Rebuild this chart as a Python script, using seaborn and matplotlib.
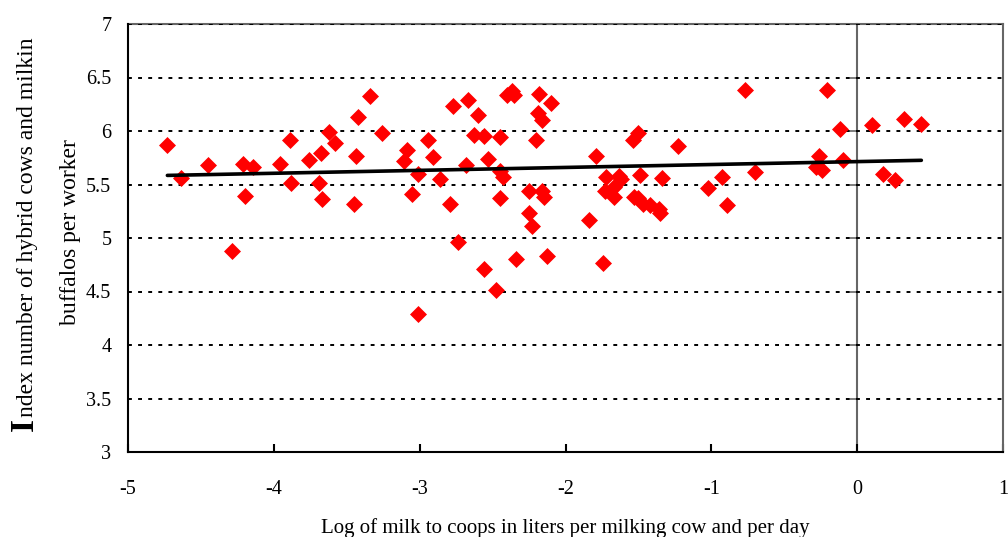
import matplotlib
matplotlib.use("Agg")
import matplotlib.pyplot as plt
import seaborn as sns
import pandas as pd
import numpy as np

# ---- data ----
log_milk = [-4.73, -4.64, -4.45, -4.29, -4.21, -4.20, -4.14, -3.96, -3.89, -3.88,
            -3.76, -3.68, -3.69, -3.67, -3.62, -3.58, -3.44, -3.45, -3.42, -3.34,
            -3.26, -3.11, -3.09, -3.05, -3.01, -3.01,
            -2.94, -2.91, -2.86, -2.79, -2.77, -2.74, -2.68, -2.67, -2.63, -2.60,
            -2.56, -2.56, -2.53, -2.48, -2.45, -2.45, -2.45, -2.43, -2.40, -2.37,
            -2.35, -2.34, -2.25, -2.25, -2.23, -2.20, -2.19, -2.18, -2.16, -2.16,
            -2.15, -2.13, -2.10, -1.84, -1.79, -1.74, -1.72, -1.73, -1.67, -1.67,
            -1.63, -1.62, -1.54, -1.50, -1.53, -1.49, -1.50, -1.47, -1.42, -1.36,
            -1.35, -1.34, -1.23,
            -0.77, -0.21, -0.12, 0.10, 0.32, 0.44, -1.02, -0.93, -0.89, -0.70,
            -0.26, -0.28, -0.24, -0.10, 0.18, 0.26]
index_cows = [5.87, 5.56, 5.68, 4.88, 5.69, 5.39, 5.66, 5.69, 5.92, 5.51,
              5.73, 5.79, 5.51, 5.36, 5.99, 5.89, 5.77, 5.32, 6.13, 6.33,
              5.98, 5.72, 5.82, 5.41, 5.60, 4.29,
              5.92, 5.76, 5.55, 5.32, 6.23, 4.96, 5.68, 6.29, 5.96, 6.15,
              5.95, 4.71, 5.74, 4.51, 5.94, 5.37, 5.63, 5.57, 6.34, 6.37,
              6.34, 4.80, 5.23, 5.44, 5.11, 5.92, 6.17, 6.35, 6.10, 5.44,
              5.38, 4.83, 6.26, 5.17, 5.77, 4.77, 5.57, 5.44, 5.48, 5.38,
              5.58, 5.55, 5.92, 5.98, 5.38, 5.59, 5.37, 5.32, 5.31, 5.27,
              5.23, 5.56, 5.86,
              6.38, 6.38, 6.02, 6.06, 6.11, 6.07, 5.47, 5.57, 5.31, 5.62,
              5.77, 5.66, 5.64, 5.73, 5.60, 5.54]
trend_x = [-4.73, 0.44]
trend_y = [5.585, 5.726]

x_ticks = [-5, -4, -3, -2, -1, 0, 1]
y_ticks = [3, 3.5, 4, 4.5, 5, 5.5, 6, 6.5, 7]
x_tick_labels = ["-5", "-4", "-3", "-2", "-1", "0", "1"]
y_tick_labels = ["3", "3.5", "4", "4.5", "5", "5.5", "6", "6.5", "7"]

x_title = "Log of milk to coops in liters per milking cow and per day"
y_title_first = "I"
y_title_line1 = "ndex number of hybrid cows and milkin"
y_title_line2 = "buffalos per worker"

# ---- styling ----
sns.set_theme(style="white")
plt.rcParams["font.family"] = ["Liberation Serif", "DejaVu Serif"]

fig = plt.figure(figsize=(10.08, 5.37), dpi=100)
ax = fig.add_axes([128 / 1008, 1 - 452 / 537, (1003 - 128) / 1008, (452 - 24) / 537])

df = pd.DataFrame({"x": log_milk, "y": index_cows})
sns.scatterplot(data=df, x="x", y="y", ax=ax, marker="D", color="#ff0000",
                s=75, linewidth=0, zorder=4)
tr = pd.DataFrame({"x": trend_x, "y": trend_y})
sns.lineplot(data=tr, x="x", y="y", ax=ax, color="black", linewidth=2.6, zorder=5)

ax.set_xlim(x_ticks[0], x_ticks[-1])
ax.set_ylim(y_ticks[0], y_ticks[-1])
ax.set_xticks(x_ticks)
ax.set_xticklabels(x_tick_labels)
ax.set_yticks(y_ticks)
ax.set_yticklabels(y_tick_labels)

ax.yaxis.grid(True, color="black", linestyle=(0, (2, 3.2)), linewidth=1.4)
ax.xaxis.grid(False)
ax.set_axisbelow(True)

for side in ["left", "bottom"]:
    ax.spines[side].set_color("black")
    ax.spines[side].set_linewidth(1.5)
for side in ["top", "right"]:
    ax.spines[side].set_color("#666666")
    ax.spines[side].set_linewidth(1.5)
ax.spines["top"].set_zorder(0.5)

ax.tick_params(axis="x", direction="in", length=6, width=1.5, color="black",
               pad=20, labelsize=14.5, labelcolor="black", bottom=True)
ax.tick_params(axis="y", length=0, pad=12, labelsize=14.5, labelcolor="black")

# y axis crossing at x = 0 (Excel style)
xmin, xmax = ax.get_xlim()
loc0 = (0 - xmin) / (xmax - xmin)
sec = ax.secondary_yaxis(loc0)
sec.set_alignment("left")
sec.spines["left"].set_color("#666666")
sec.spines["left"].set_linewidth(1.5)
sec.set_yticks(y_ticks)
sec.tick_params(axis="y", direction="out", length=5, width=1.2, color="#666666",
                labelleft=False, labelright=False)

ax.set_xlabel(x_title, fontsize=15, color="black", labelpad=14)
ax.set_ylabel("")

# y title: big bold first letter + rest
W, H = fig.get_size_inches() * fig.dpi
t0 = fig.text(33 / W, 1 - 431 / H, y_title_first, rotation=90, rotation_mode="anchor",
              ha="left", va="baseline", fontsize=24, fontweight="bold", color="black")
fig.canvas.draw()
bb = t0.get_window_extent(renderer=fig.canvas.get_renderer())
fig.text(33 / W, (bb.y1 + 1) / H, y_title_line1, rotation=90, rotation_mode="anchor",
         ha="left", va="baseline", fontsize=17, color="black")
fig.text(76 / W, 1 - 232 / H, y_title_line2, rotation=90, rotation_mode="anchor",
         ha="center", va="baseline", fontsize=17, color="black")

fig.savefig("out.png", dpi=100)
